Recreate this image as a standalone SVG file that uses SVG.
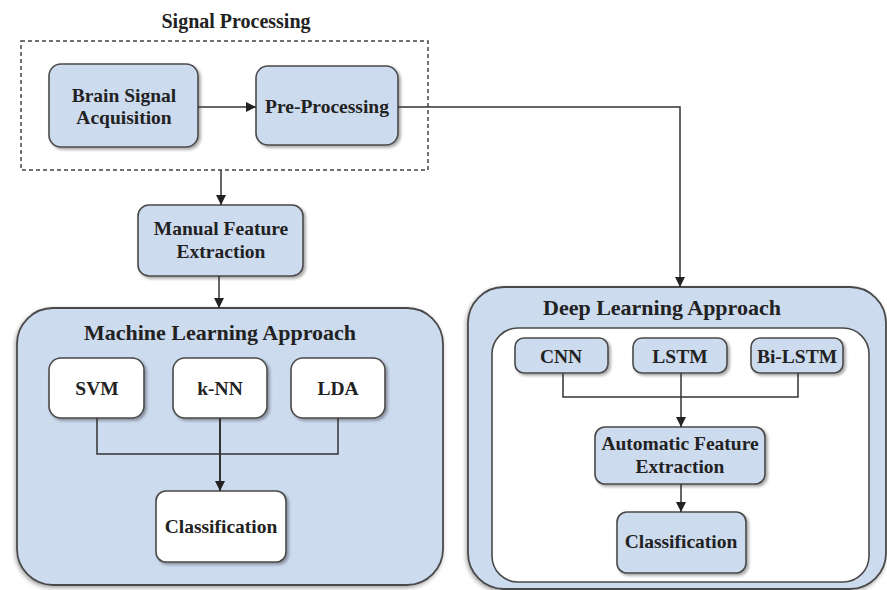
<svg xmlns="http://www.w3.org/2000/svg" width="887" height="590" viewBox="0 0 887 590">
  <defs>
    <filter id="shadow" x="-10%" y="-10%" width="125%" height="130%">
      <feDropShadow dx="2" dy="2" stdDeviation="1.5" flood-color="#000" flood-opacity="0.35"/>
    </filter>
    <filter id="bigshadow" x="-5%" y="-5%" width="110%" height="110%">
      <feDropShadow dx="-1" dy="2" stdDeviation="2" flood-color="#000" flood-opacity="0.35"/>
    </filter>
    <marker id="arrow" viewBox="0 0 10 10" refX="10" refY="5" markerWidth="10" markerHeight="10" markerUnits="userSpaceOnUse" orient="auto">
      <path d="M0,0 L10,5 L0,10 z" fill="#222"/>
    </marker>
  </defs>
  <style>
    text { font-family: "Liberation Serif", "Times New Roman", serif; font-weight: bold; fill: #222; text-anchor: middle; }
    .node { font-size: 19.5px; }
    .title { font-size: 22px; }
    .blue { fill: #cddbef; stroke: #4a4a4a; stroke-width: 1.6; filter: url(#shadow); }
    .white { fill: #ffffff; stroke: #4a4a4a; stroke-width: 1.6; filter: url(#shadow); }
    .panel { fill: #cddbef; stroke: #4a4a4a; stroke-width: 1.8; filter: url(#bigshadow); }
    .link { fill: none; stroke: #333; stroke-width: 1.5; }
  </style>

  <rect width="887" height="590" fill="#ffffff"/>

  <!-- Signal processing stage -->
  <g id="signal-processing">
    <rect x="21" y="41" width="407" height="129" fill="none" stroke="#444" stroke-width="1.5" stroke-dasharray="4,3"/>
    <text x="236" y="28" style="font-size:20px">Signal Processing</text>
  </g>
  <g id="brain-signal-acquisition">
    <rect class="blue" x="49" y="64" width="149" height="83" rx="12"/>
    <text class="node" x="124" y="102">Brain Signal</text>
    <text class="node" x="124" y="124">Acquisition</text>
  </g>
  <g id="pre-processing">
    <rect class="blue" x="256" y="66" width="142" height="79" rx="12"/>
    <text class="node" x="327" y="113">Pre-Processing</text>
  </g>
  <g id="manual-feature-extraction">
    <rect class="blue" x="138" y="205" width="165" height="71" rx="11"/>
    <text class="node" x="221" y="235">Manual Feature</text>
    <text class="node" x="221" y="258">Extraction</text>
  </g>

  <!-- Machine learning panel -->
  <g id="machine-learning-approach">
    <rect class="panel" x="17" y="308" width="426" height="277" rx="36"/>
    <text class="title" x="220" y="340">Machine Learning Approach</text>
  </g>
  <g id="svm">
    <rect class="white" x="49" y="358" width="95" height="60" rx="12"/>
    <text class="node" x="97" y="395">SVM</text>
  </g>
  <g id="knn">
    <rect class="white" x="173" y="358" width="94" height="60" rx="12"/>
    <text class="node" x="220" y="395">k-NN</text>
  </g>
  <g id="lda">
    <rect class="white" x="291" y="358" width="94" height="60" rx="12"/>
    <text class="node" x="338" y="395">LDA</text>
  </g>
  <g id="ml-classification">
    <rect class="white" x="156" y="491" width="130" height="71" rx="10"/>
    <text class="node" x="221" y="533">Classification</text>
  </g>

  <!-- Deep learning panel -->
  <g id="deep-learning-approach">
    <rect class="panel" x="468" y="287" width="418" height="302" rx="36"/>
    <text class="title" x="662" y="315">Deep Learning Approach</text>
    <rect x="492" y="328" width="377" height="254" rx="26" fill="#ffffff" stroke="#4a4a4a" stroke-width="1.6"/>
  </g>
  <g id="cnn">
    <rect class="blue" x="515" y="338" width="93" height="35" rx="9"/>
    <text class="node" x="561" y="363">CNN</text>
  </g>
  <g id="lstm">
    <rect class="blue" x="633" y="338" width="94" height="35" rx="9"/>
    <text class="node" x="680" y="363">LSTM</text>
  </g>
  <g id="bi-lstm">
    <rect class="blue" x="751" y="338" width="92" height="35" rx="9"/>
    <text class="node" x="797" y="363">Bi-LSTM</text>
  </g>
  <g id="automatic-feature-extraction">
    <rect class="blue" x="595" y="427" width="170" height="57" rx="10"/>
    <text class="node" x="680" y="450">Automatic Feature</text>
    <text class="node" x="680" y="473">Extraction</text>
  </g>
  <g id="dl-classification">
    <rect class="blue" x="617" y="512" width="129" height="61" rx="10"/>
    <text class="node" x="681" y="548">Classification</text>
  </g>

  <!-- Connectors -->
  <g id="connectors">
    <path class="link" d="M198,107 L256,107" marker-end="url(#arrow)"/>
    <path class="link" d="M398,107 L680,107 L680,287" marker-end="url(#arrow)"/>
    <path class="link" d="M221,170 L221,205" marker-end="url(#arrow)"/>
    <path class="link" d="M219,276 L219,308" marker-end="url(#arrow)"/>
    <path class="link" d="M97,418 L97,454 L338,454 L338,418"/>
    <path class="link" d="M220,418 L220,491" marker-end="url(#arrow)" style="stroke-width:2"/>
    <path class="link" d="M563,373 L563,397 L798,397 L798,373"/>
    <path class="link" d="M681,373 L681,427" marker-end="url(#arrow)"/>
    <path class="link" d="M681,484 L681,512" marker-end="url(#arrow)"/>
  </g>
</svg>
